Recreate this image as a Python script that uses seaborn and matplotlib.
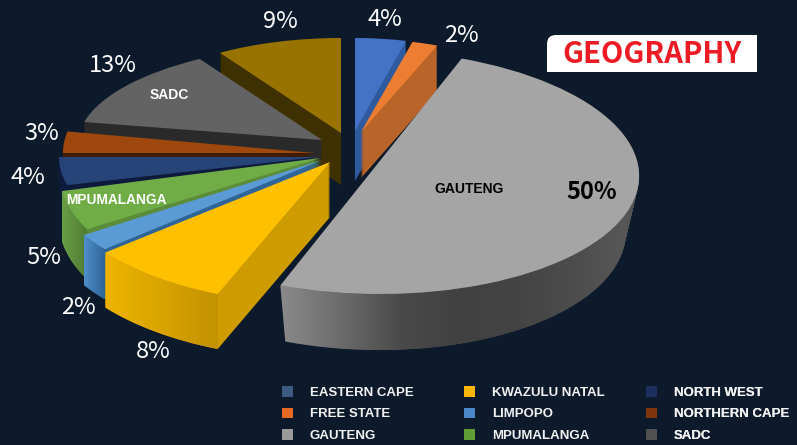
import numpy as np
import seaborn as sns
import matplotlib
matplotlib.use("Agg")
import matplotlib.pyplot as plt
from matplotlib.colors import LinearSegmentedColormap
from matplotlib.patches import FancyBboxPatch, Patch, Polygon, Rectangle
from matplotlib.transforms import Affine2D

# data, clockwise from twelve o'clock
regions = ["EASTERN CAPE", "FREE STATE", "GAUTENG", "KWAZULU NATAL", "LIMPOPO",
           "MPUMALANGA", "NORTH WEST", "NORTHERN CAPE", "SADC", "OTHER"]
shares = [4, 2, 50, 8, 2, 5, 4, 3, 13, 9]

# colours
bg = "#0c1a2b"
top_colors = ["#4472c4", "#ed7d31", "#a5a5a5", "#ffc000", "#5b9bd5",
              "#70ad47", "#264478", "#9e480e", "#636363", "#997300"]
wall_colors = ["#2f5a9e", "#b9652a", "#555555", "#cf9c00", "#2f6496",
               "#5a8c3a", "#0d1a3c", "#3f1c06", "#2a2a2a", "#3f3000"]
legend_colors = ["#3d5a80", "#e56a26", "#9a9a9a", "#ffb60a", "#4a86c8",
                 "#5f9e37", "#1c2f5e", "#82330f", "#505050"]

# fake perspective: every slice has its own ellipse, shear, taper and depth, in pixels
cx = [355, 361, 371, 330, 322, 320, 319, 315, 322, 341]
cy = [131, 132, 172, 162, 160, 158, 157, 153, 140, 133]
rx = [205, 207, 268, 285, 282, 260, 260, 252, 244, 226]
ry = [93, 93, 122, 142, 140, 133, 113, 115, 96, 95]
shear = [0, 0, -8.6, 8, 0, 25, 0, 0, 10, 0]
taper = [0, 0, 0.05, 0, 0, 0, 0, 0, 0, 0]
depth = [50, 46, 56, 55, 50, 50, 24, 22, 20, 52]
order = [1, 2, 7, 6, 5, 4, 3, 2, 1, 0]

sns.set_theme(style="dark", rc={"figure.facecolor": bg, "axes.facecolor": bg})
fig = plt.figure(figsize=(7.97, 4.45), dpi=100, facecolor=bg)
ax = fig.add_axes([0, 0, 1, 1])


def place(w, i, d=0):
    sx = rx[i] * (1 - taper[i] * d / depth[i])
    m = Affine2D.from_values(sx, 0, shear[i], -ry[i], cx[i], cy[i] + d)
    w.set_transform(m + ax.transData)
    w.set_linewidth(0)


# extruded sides, bottom layer first
for d in range(max(depth), 0, -1):
    wedges, _ = ax.pie(shares, colors=wall_colors, startangle=90, counterclock=False)
    for i, w in enumerate(wedges):
        if d > depth[i]:
            w.remove()
        else:
            place(w, i, d)
            w.set_zorder(order[i] * 10 + 1)

# top faces
tops, _ = ax.pie(shares, colors=top_colors, startangle=90, counterclock=False)
for i, w in enumerate(tops):
    place(w, i)
    w.set_zorder(order[i] * 10 + 3)


def shaded_band(i, stops):
    # outer rim of a slice, with a horizontal gradient clipped to it
    t = np.radians(np.linspace(tops[i].theta1, tops[i].theta2, 80))
    y = cy[i] - ry[i] * np.sin(t)
    x0 = cx[i] + rx[i] * np.cos(t) + shear[i] * np.sin(t)
    x1 = cx[i] + rx[i] * (1 - taper[i]) * np.cos(t) + shear[i] * np.sin(t)
    pts = np.r_[np.c_[x0, y], np.c_[x1, y + depth[i]][::-1]]
    clip = Polygon(pts, transform=ax.transData)
    cmap = LinearSegmentedColormap.from_list("rim", stops)
    im = ax.imshow(np.linspace(0, 1, 256)[None, :], cmap=cmap, aspect="auto",
                   extent=(x0.min(), x0.max(), y.max() + depth[i], y.min()),
                   zorder=order[i] * 10 + 2)
    im.set_clip_path(clip)


shaded_band(2, ["#8a8a8a", "#6c6c6c", "#4a4a4a", "#414141", "#444444", "#4d4d4d", "#5a5a5a"])
shaded_band(3, ["#efb400", "#d9a400", "#c29200"])
shaded_band(4, ["#4f8fca", "#2f6496"])
shaded_band(5, ["#6a9f45", "#4f7a33"])

ax.set_xlim(0, 797)
ax.set_ylim(445, 0)
ax.set_aspect("auto")
ax.axis("off")

# percentage labels
pct_font = ["Noto Sans CJK SC", "DejaVu Sans"]
pct_x = [385, 461, 592, 153, 78, 44, 28, 42, 113, 280]
pct_y = [20, 35, 192, 352, 308, 258, 178, 134, 66, 21]
for i, v in enumerate(shares):
    is_big = regions[i] == "GAUTENG"
    ax.text(pct_x[i], pct_y[i], f"{v}%", color="black" if is_big else "white", fontsize=17,
            fontweight="bold" if is_big else "medium", family=pct_font,
            ha="center", va="center", zorder=200)

# names on the slices
name_font = "Liberation Sans"
ax.text(469, 189, "GAUTENG", color="black", fontsize=10, fontweight="bold", family=name_font,
        ha="center", va="center", zorder=200)
ax.text(169, 95, "SADC", color="white", fontsize=10, fontweight="bold", family=name_font,
        ha="center", va="center", zorder=200)
ax.text(116, 200, "MPUMALANGA", color="white", fontsize=9.9, fontweight="bold", family=name_font,
        ha="center", va="center", zorder=200)

# title tag, only the top left corner is round
ax.add_patch(FancyBboxPatch((547, 35), 210, 37, boxstyle="round,pad=0,rounding_size=9",
                            fc="white", ec="none", zorder=300))
ax.add_patch(Rectangle((600, 35), 157, 37, fc="white", ec="none", zorder=300))
ax.add_patch(Rectangle((547, 55), 100, 17, fc="white", ec="none", zorder=300))
ax.text(652, 54, "GEOGRAPHY", color="#ed1c24", fontsize=21, fontweight="bold", family=pct_font,
        ha="center", va="center", zorder=301)

# legend, one block per column because the columns are not evenly spaced
handles = [Patch(fc=c, ec="none", label=n) for c, n in zip(legend_colors, regions)]
for k, x_col in enumerate([282, 464, 646]):
    leg = ax.legend(handles=handles[k * 3:k * 3 + 3], loc="upper left", bbox_to_anchor=(x_col, 386),
                    bbox_transform=ax.transData, frameon=False, borderpad=0, borderaxespad=0,
                    handlelength=0.85, handleheight=0.85, handletextpad=1.25,
                    labelspacing=0.66, labelcolor="#f2f2f2",
                    prop={"family": name_font, "weight": "bold", "size": 9.5})
    ax.add_artist(leg)

fig.savefig("out.png", dpi=100, facecolor=bg)
